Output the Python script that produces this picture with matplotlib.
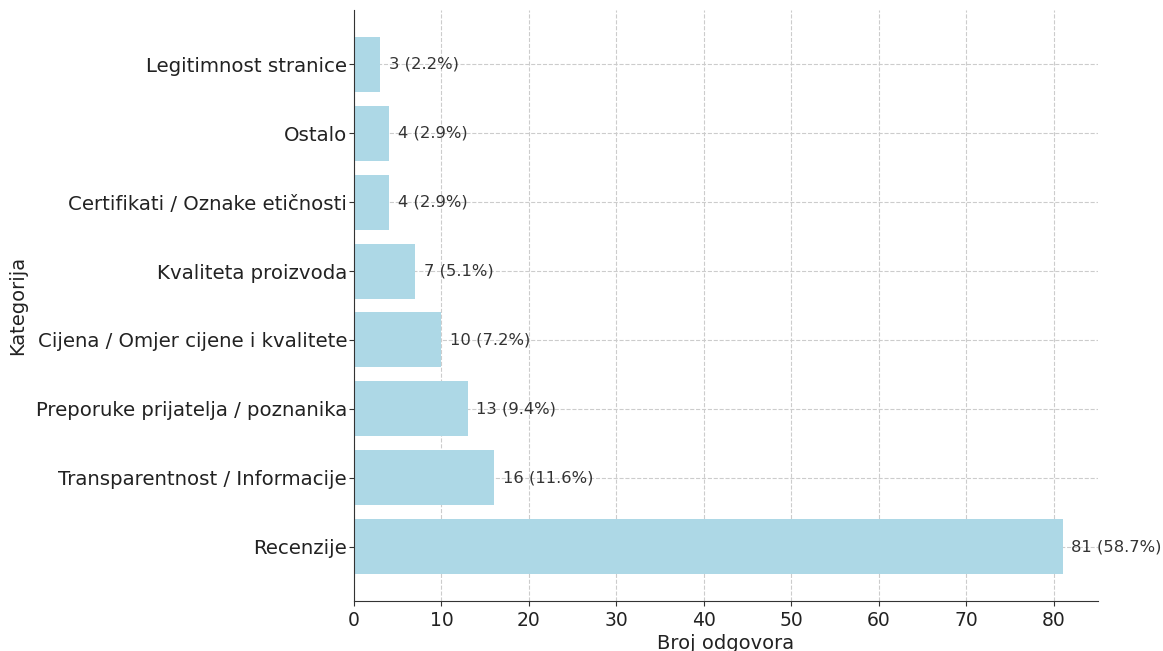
import matplotlib
matplotlib.use("Agg")
import matplotlib.pyplot as plt

# categories and response counts (bottom to top)
categories = ['Recenzije', 'Transparentnost / Informacije', 'Preporuke prijatelja / poznanika',
              'Cijena / Omjer cijene i kvalitete', 'Kvaliteta proizvoda',
              'Certifikati / Oznake etičnosti', 'Ostalo', 'Legitimnost stranice']
counts = [81, 16, 13, 10, 7, 4, 4, 3]
percents = [58.7, 11.6, 9.4, 7.2, 5.1, 2.9, 2.9, 2.2]

fig = plt.figure(figsize=(11.63, 6.51), dpi=100)
ax = fig.add_axes([354/1163, 1 - 601/651, (1098-354)/1163, (601-10)/651])

ax.barh(categories, counts, color='lightblue', height=0.8, zorder=2)
for i, (c, p) in enumerate(zip(counts, percents)):
    ax.text(c + 1, i, f'{c} ({p}%)', va='center', ha='left', fontsize=11.8, color='#333333', zorder=3)

ax.set_xlim(0, 85.05)
ax.grid(True, linestyle='--', color='#cccccc', linewidth=0.8, zorder=0)
ax.spines['top'].set_visible(False)
ax.spines['right'].set_visible(False)
ax.spines['left'].set_color('#333333')
ax.spines['bottom'].set_color('#333333')
ax.tick_params(axis='y', labelsize=14.2, colors='#333333', labelcolor='#222222', pad=1.5)
ax.tick_params(axis='x', labelsize=13.5, colors='#333333', labelcolor='#222222')
ax.set_xlabel('Broj odgovora', fontsize=14, color='#222222', labelpad=3)
ax.set_ylabel('Kategorija', fontsize=14, color='#222222', labelpad=6)

plt.savefig('out.png')
